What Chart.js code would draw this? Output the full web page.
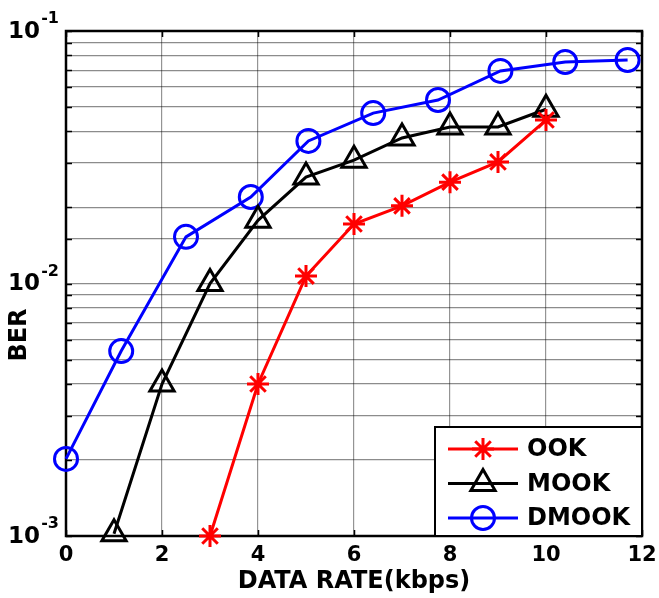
<!DOCTYPE html>
<html lang="en">
<head>
    <meta charset="UTF-8">
    <script src="https://cdn.jsdelivr.net/npm/chart.js@4.4.1/dist/chart.umd.min.js"></script>
    <style>
        body {
            margin: 0;
            background: #fff;
        }

        canvas {
            display: block;
        }
    </style>
    <title>BER vs Data Rate</title>
</head>
<body>
    <canvas id="berChart" width="659" height="598"></canvas>

    <script>
        // values
        const xOOK = [3, 4, 5, 6, 7, 8, 9, 10];
        const berOOK = [1.0e-3, 4.0e-3, 1.07e-2, 1.72e-2, 2.03e-2, 2.52e-2, 3.03e-2, 4.44e-2];

        const xMOOK = [1, 2, 3, 4, 5, 6, 7, 8, 9, 10];
        const berMOOK = [1.02e-3, 4.0e-3, 1.0e-2, 1.78e-2, 2.64e-2, 3.08e-2, 3.77e-2, 4.17e-2, 4.17e-2, 4.9e-2];

        const xDMOOK = [0, 1.15, 2.5, 3.85, 5.05, 6.4, 7.75, 9.05, 10.4, 11.7];
        const berDMOOK = [2.02e-3, 5.4e-3, 1.53e-2, 2.2e-2, 3.67e-2, 4.73e-2, 5.33e-2, 6.95e-2, 7.54e-2, 7.68e-2];

        const seriesNames = ['OOK', 'MOOK', 'DMOOK'];
        const xTicks = [0, 2, 4, 6, 8, 10, 12];
        const yDecades = [-3, -2, -1];

        const FONT = '"DejaVu Sans", sans-serif';

        function toPoints(xs, ys) {
            return xs.map((x, i) => ({ x: x, y: ys[i] }));
        }

        // axis box, inward tick marks, log labels, y title, x title
        const decorations = {
            id: 'decorations',
            beforeDatasetsDraw(chart) {
                const ctx = chart.ctx;
                const area = chart.chartArea;
                const xs = chart.scales.x;
                const ys = chart.scales.y;
                ctx.save();
                ctx.strokeStyle = '#000';
                ctx.lineWidth = 1.5;
                ys.ticks.forEach(t => {
                    const py = Math.round(ys.getPixelForValue(t.value)) + 0.5;
                    ctx.beginPath();
                    ctx.moveTo(area.left, py);
                    ctx.lineTo(area.left + 6, py);
                    ctx.moveTo(area.right, py);
                    ctx.lineTo(area.right - 6, py);
                    ctx.stroke();
                });
                xs.ticks.forEach(t => {
                    const px = Math.round(xs.getPixelForValue(t.value)) + 0.5;
                    ctx.beginPath();
                    ctx.moveTo(px, area.top);
                    ctx.lineTo(px, area.top + 6);
                    ctx.moveTo(px, area.bottom);
                    ctx.lineTo(px, area.bottom - 6);
                    ctx.stroke();
                });
                ctx.lineWidth = 2.5;
                ctx.strokeRect(area.left, area.top, area.right - area.left, area.bottom - area.top);

                // y labels 10^n
                ctx.fillStyle = '#000';
                yDecades.forEach(n => {
                    const py = ys.getPixelForValue(Math.pow(10, n));
                    ctx.font = 'bold 23px ' + FONT;
                    ctx.textAlign = 'right';
                    ctx.textBaseline = 'middle';
                    ctx.fillText('10', area.left - 26, py + 1);
                    ctx.font = 'bold 16px ' + FONT;
                    ctx.textBaseline = 'alphabetic';
                    ctx.fillText(String(n), area.left - 7, py - 8);
                });

                // axis titles
                ctx.font = 'bold 24px ' + FONT;
                ctx.textAlign = 'center';
                ctx.textBaseline = 'middle';
                ctx.fillText('DATA RATE(kbps)', (area.left + area.right) / 2, 582);
                ctx.translate(20, 335);
                ctx.rotate(-Math.PI / 2);
                ctx.fillText('BER', 0, 0);
                ctx.restore();
            }
        };

        // legend box in the lower right corner
        const cornerLegend = {
            id: 'cornerLegend',
            afterDraw(chart) {
                const ctx = chart.ctx;
                const area = chart.chartArea;
                const boxLeft = 435;
                const boxTop = 427;
                ctx.save();
                ctx.fillStyle = '#fff';
                ctx.fillRect(boxLeft, boxTop, area.right - boxLeft, area.bottom - boxTop);
                ctx.strokeStyle = '#000';
                ctx.lineWidth = 2;
                ctx.strokeRect(boxLeft, boxTop, area.right - boxLeft, area.bottom - boxTop);

                chart.data.datasets.forEach((ds, i) => {
                    const rowY = 449 + i * 34.5;
                    ctx.strokeStyle = ds.borderColor;
                    ctx.lineWidth = 3;
                    ctx.beginPath();
                    ctx.moveTo(448, rowY);
                    ctx.lineTo(518, rowY);
                    ctx.stroke();
                    ctx.lineWidth = ds.pointBorderWidth;
                    drawMarker(ctx, ds.pointStyle, ds.pointRadius, 483, rowY);
                    ctx.fillStyle = '#000';
                    ctx.font = 'bold 24px ' + FONT;
                    ctx.textAlign = 'left';
                    ctx.textBaseline = 'middle';
                    ctx.fillText(ds.label, 527, rowY + 1);
                });
                ctx.restore();
            }
        };

        function drawMarker(ctx, style, r, x, y) {
            ctx.beginPath();
            if (style === 'circle') {
                ctx.arc(x, y, r, 0, Math.PI * 2);
            } else if (style === 'triangle') {
                ctx.moveTo(x, y - r);
                ctx.lineTo(x + r * Math.sin(2 * Math.PI / 3), y - r * Math.cos(2 * Math.PI / 3));
                ctx.lineTo(x - r * Math.sin(2 * Math.PI / 3), y - r * Math.cos(2 * Math.PI / 3));
                ctx.closePath();
            } else {
                for (let k = 0; k < 4; k++) {
                    const a = k * Math.PI / 4;
                    ctx.moveTo(x - r * Math.cos(a), y - r * Math.sin(a));
                    ctx.lineTo(x + r * Math.cos(a), y + r * Math.sin(a));
                }
            }
            ctx.stroke();
        }

        const ctx = document.getElementById('berChart').getContext('2d');
        new Chart(ctx, {
            type: 'line',
            data: {
                datasets: [
                    {
                        label: seriesNames[0],
                        data: toPoints(xOOK, berOOK),
                        borderColor: '#ff0000',
                        borderWidth: 3,
                        pointStyle: 'star',
                        pointRadius: 11,
                        pointBorderWidth: 3,
                        pointBackgroundColor: 'rgba(0,0,0,0)',
                        pointBorderColor: '#ff0000',
                        clip: false
                    },
                    {
                        label: seriesNames[1],
                        data: toPoints(xMOOK, berMOOK),
                        borderColor: '#000000',
                        borderWidth: 3,
                        pointStyle: 'triangle',
                        pointRadius: 14,
                        pointBorderWidth: 3,
                        pointBackgroundColor: 'rgba(0,0,0,0)',
                        pointBorderColor: '#000000',
                        clip: false
                    },
                    {
                        label: seriesNames[2],
                        data: toPoints(xDMOOK, berDMOOK),
                        borderColor: '#0000ff',
                        borderWidth: 3,
                        pointStyle: 'circle',
                        pointRadius: 11.5,
                        pointBorderWidth: 3,
                        pointBackgroundColor: 'rgba(0,0,0,0)',
                        pointBorderColor: '#0000ff',
                        clip: false
                    }
                ]
            },
            options: {
                responsive: false,
                devicePixelRatio: 1,
                animation: false,
                layout: {
                    padding: { top: 31, right: 14, left: 0, bottom: 0 }
                },
                plugins: {
                    legend: { display: false },
                    tooltip: { enabled: false }
                },
                scales: {
                    x: {
                        type: 'linear',
                        min: 0,
                        max: 12,
                        afterFit: (scale) => {
                            scale.height = 62;
                            scale.paddingLeft = 0;
                            scale.paddingRight = 0;
                        },
                        afterBuildTicks: (scale) => {
                            scale.ticks = xTicks.map(v => ({ value: v }));
                        },
                        ticks: {
                            color: '#000',
                            padding: 7,
                            maxRotation: 0,
                            font: { family: FONT, weight: 'bold', size: 21 }
                        },
                        grid: {
                            color: 'rgba(0,0,0,0.42)',
                            lineWidth: 1.2,
                            drawTicks: false
                        },
                        border: { display: false }
                    },
                    y: {
                        type: 'logarithmic',
                        min: 0.001,
                        max: 0.1,
                        afterFit: (scale) => { scale.width = 66; },
                        ticks: { display: false },
                        grid: {
                            color: 'rgba(0,0,0,0.45)',
                            lineWidth: 1.2,
                            drawTicks: false
                        },
                        border: { display: false }
                    }
                }
            },
            plugins: [decorations, cornerLegend]
        });
    </script>
</body>
</html>
